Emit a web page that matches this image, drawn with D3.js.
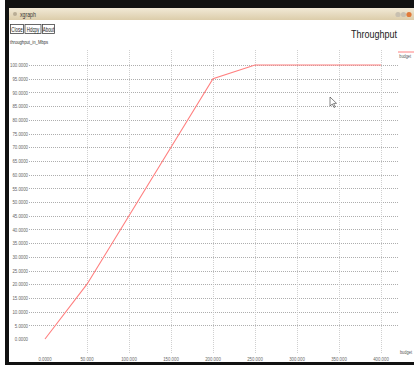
<!DOCTYPE html>
<html><head><meta charset="utf-8">
<script src="https://cdn.jsdelivr.net/npm/d3@7"></script>
<style>
html,body{margin:0;padding:0;background:#fff;overflow:hidden}
svg{display:block}
text{font-family:"Liberation Sans",Arial,sans-serif}
</style></head>
<body>
<svg id="c" width="414" height="365"></svg>
<script>
const budget = [0, 50, 100, 150, 200, 250, 300, 350, 400];
const throughput = [0, 20, 45, 70, 95, 100, 100, 100, 100];
const xTicks = [0, 50, 100, 150, 200, 250, 300, 350, 400];
const yTicks = [0,5,10,15,20,25,30,35,40,45,50,55,60,65,70,75,80,85,90,95,100];
const seriesName = "budget";
const xUnit = "budget";
const yUnit = "throughput_in_Mbps";
const chartTitle = "Throughput";
const buttons = ["Close", "Hdcpy", "About"];

const svg = d3.select("#c");
function txt(parent, px, py, s, size, anchor, sx, fill){
  return parent.append("text")
    .attr("transform",`translate(${px},${py}) scale(${sx},1)`)
    .attr("text-anchor",anchor).attr("font-size",size).attr("fill",fill).text(s);
}
// window chrome
svg.append("rect").attr("x",5).attr("y",0).attr("width",409).attr("height",8).attr("fill","#111");
const g0 = svg.append("defs").append("linearGradient").attr("id","tb").attr("x1",0).attr("y1",0).attr("x2",0).attr("y2",1);
g0.append("stop").attr("offset","0").attr("stop-color","#f1e9d6");
g0.append("stop").attr("offset","1").attr("stop-color","#dccdaa");
svg.append("rect").attr("x",9).attr("y",8).attr("width",405).attr("height",12).attr("fill","url(#tb)");
svg.append("rect").attr("x",5).attr("y",8).attr("width",4).attr("height",357).attr("fill","#111");
svg.append("rect").attr("x",5).attr("y",362).attr("width",409).attr("height",3).attr("fill","#111");
svg.append("circle").attr("cx",15).attr("cy",14).attr("r",2).attr("fill","#b9ad95");
txt(svg,20,16.5,"xgraph",6.5,"start",0.8,"#333");
[[398,"#c8c0b0"],[403.5,"#c8c0b0"],[409,"#e07a3a"]].forEach(([cx,col])=>{
  svg.append("circle").attr("cx",cx).attr("cy",14.5).attr("r",2.6).attr("fill",col);
});
// buttons
let bx = 10;
const bw = [13,16,12];
buttons.forEach((b,i)=>{
  svg.append("rect").attr("x",bx+0.5).attr("y",24.5).attr("width",bw[i]).attr("height",9).attr("fill","#fff").attr("stroke","#444").attr("stroke-width",0.8);
  txt(svg,bx+0.5+bw[i]/2,31.5,b,6.5,"middle",0.68,"#222");
  bx += bw[i]+1.5;
});

const x = d3.scaleLinear().domain([0,400]).range([45,381]);
const y = d3.scaleLinear().domain([0,100]).range([339,65]);

txt(svg,10,44,yUnit,6,"start",0.7,"#333");
txt(svg,397,38,chartTitle,11,"end",0.82,"#222");

// grid
svg.append("g").selectAll("line").data(yTicks.filter(d=>d>0)).join("line")
  .attr("x1",29).attr("x2",399).attr("y1",d=>Math.round(y(d))+0.5).attr("y2",d=>Math.round(y(d))+0.5)
  .attr("stroke","#999").attr("stroke-width",0.8).attr("stroke-dasharray","1,1");
svg.append("g").selectAll("line").data(xTicks.filter(d=>d>0)).join("line")
  .attr("x1",d=>Math.round(x(d))+0.5).attr("x2",d=>Math.round(x(d))+0.5).attr("y1",50).attr("y2",353)
  .attr("stroke","#c4c4c4").attr("stroke-width",0.8).attr("stroke-dasharray","1,1");

// tick labels
const yl = svg.append("g");
yTicks.forEach(d=>txt(yl,28,y(d)+2.2,d.toFixed(4),6,"end",0.72,"#666"));
const xl = svg.append("g");
xTicks.forEach(d=>txt(xl,x(d),361,d.toFixed(d===0?4:3),6,"middle",0.72,"#666"));
txt(svg,412,354,xUnit,6,"end",0.66,"#555");

// legend
svg.append("line").attr("x1",398).attr("x2",414).attr("y1",52).attr("y2",52).attr("stroke","#ff8080").attr("stroke-width",1);
txt(svg,411,58,seriesName,5.5,"end",0.7,"#555");

// data line
const pts = budget.map((b,i)=>[b,throughput[i]]);
svg.append("path").datum(pts)
  .attr("d", d3.line().x(d=>x(d[0])).y(d=>y(d[1])))
  .attr("fill","none").attr("stroke","#ff7f7f").attr("stroke-width",1.1);

// cursor
svg.append("path").attr("d","M330,97 L330,106 L332.3,104 L334,107.5 L335.3,106.8 L333.6,103.5 L336.5,103.3 Z")
  .attr("fill","#fff").attr("stroke","#333").attr("stroke-width",0.6);
</script>
</body></html>
